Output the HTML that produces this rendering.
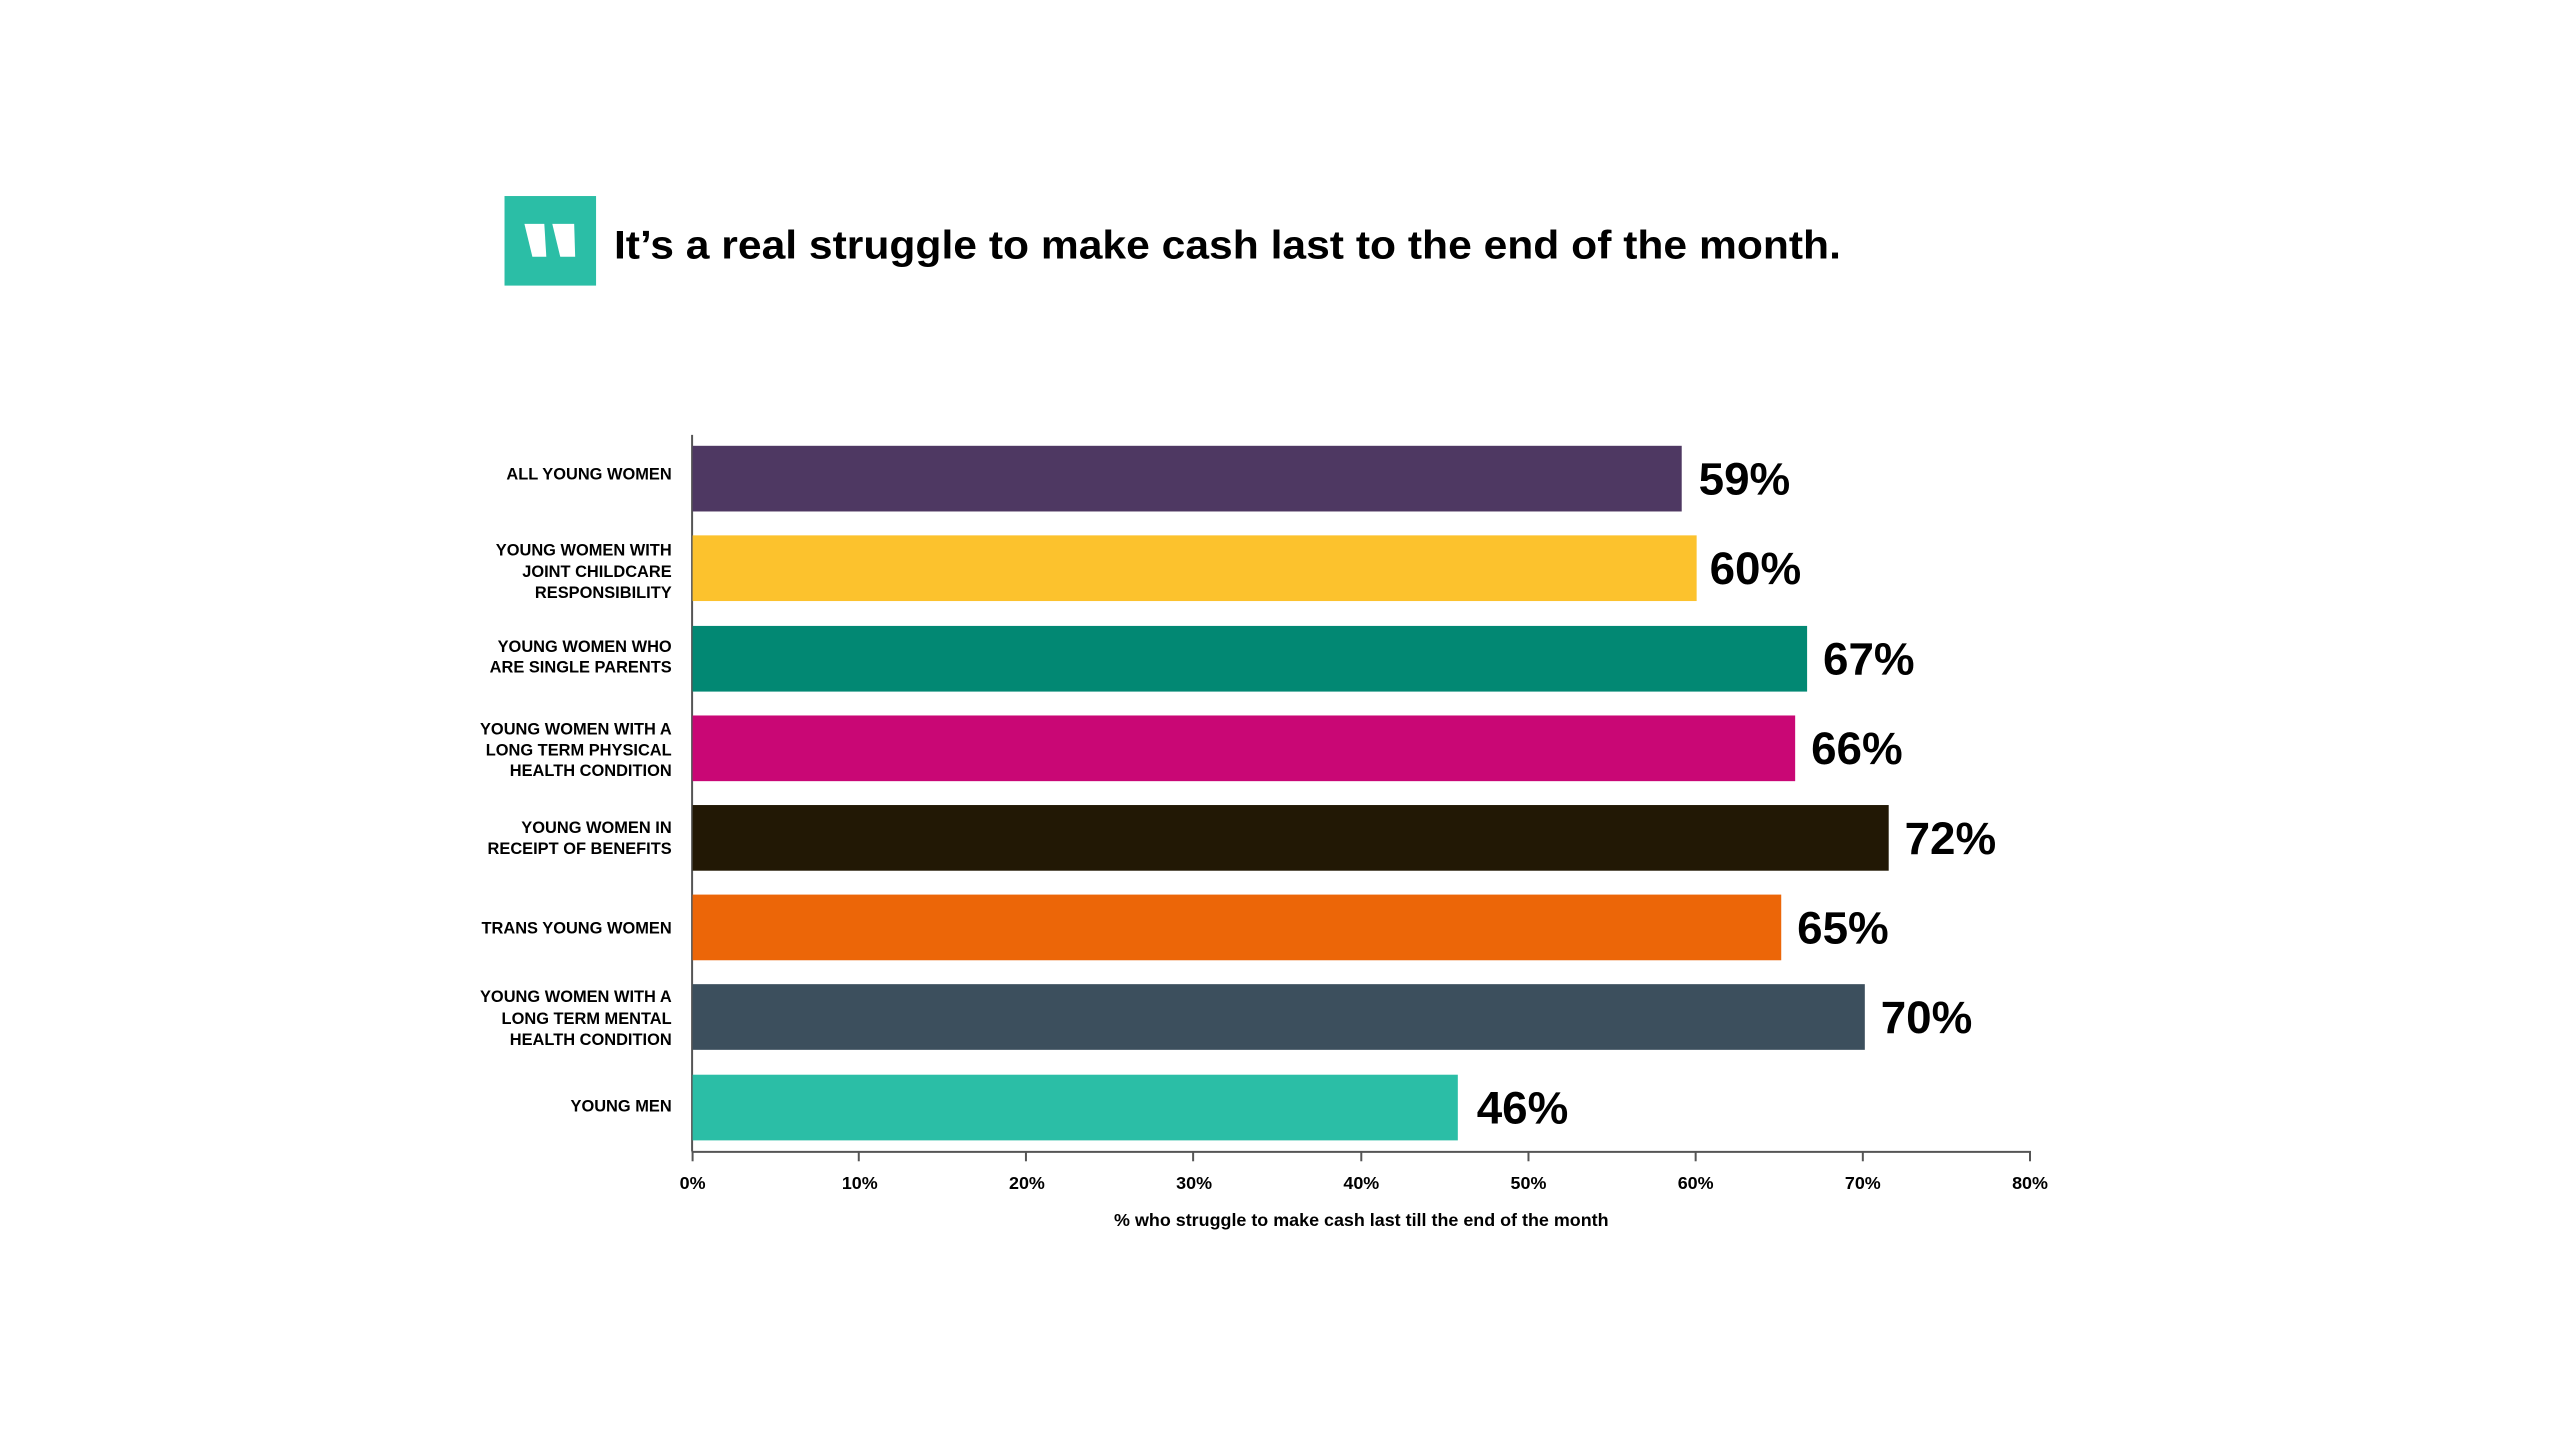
<!DOCTYPE html>
<html><head><meta charset="utf-8"><style>
body{margin:0;width:2560px;height:1440px;background:#fff;overflow:hidden;font-family:"Liberation Sans",sans-serif;}
</style></head><body>
<svg width="2560" height="1440" xmlns="http://www.w3.org/2000/svg" font-family="Liberation Sans, sans-serif">
<g transform="scale(0.9951)">
<rect x="507" y="197" width="92" height="90" fill="#2bbea6"/>
<polygon points="527,225 547,225 549,258 535,258" fill="#fff"/>
<polygon points="555,225 577,225 578,258 563,258" fill="#fff"/>
<text x="617" y="260" font-size="40" font-weight="bold" fill="#000" textLength="1233" lengthAdjust="spacingAndGlyphs">It’s a real struggle to make cash last to the end of the month.</text>
<line x1="695.5" y1="437" x2="695.5" y2="1157" stroke="#555" stroke-width="2"/>
<line x1="695" y1="1157.5" x2="2041" y2="1157.5" stroke="#555" stroke-width="2"/>
<g stroke="#555" stroke-width="2">
<line x1="863" y1="1157" x2="863" y2="1167"/><line x1="1031" y1="1157" x2="1031" y2="1167"/><line x1="1199" y1="1157" x2="1199" y2="1167"/><line x1="1368" y1="1157" x2="1368" y2="1167"/><line x1="1536" y1="1157" x2="1536" y2="1167"/><line x1="1704" y1="1157" x2="1704" y2="1167"/><line x1="1872" y1="1157" x2="1872" y2="1167"/><line x1="2040" y1="1157" x2="2040" y2="1167"/><line x1="696" y1="1157" x2="696" y2="1167"/>
</g>
<g font-size="18" font-weight="bold" text-anchor="middle" fill="#000">
<text x="696" y="1195">0%</text><text x="864" y="1195">10%</text><text x="1032" y="1195">20%</text><text x="1200" y="1195">30%</text><text x="1368" y="1195">40%</text><text x="1536" y="1195">50%</text><text x="1704" y="1195">60%</text><text x="1872" y="1195">70%</text><text x="2040" y="1195">80%</text>
<text x="1368" y="1232">% who struggle to make cash last till the end of the month</text>
</g>
<g>
<rect x="696" y="448" width="994" height="66" fill="#4e3862"/>
<rect x="696" y="538" width="1009" height="66" fill="#fcc22d"/>
<rect x="696" y="629" width="1120" height="66" fill="#028873"/>
<rect x="696" y="719" width="1108" height="66" fill="#c90775"/>
<rect x="696" y="809" width="1202" height="66" fill="#221805"/>
<rect x="696" y="899" width="1094" height="66" fill="#ec6608"/>
<rect x="696" y="989" width="1178" height="66" fill="#3c4f5d"/>
<rect x="696" y="1080" width="769" height="66" fill="#2bbea6"/>
</g>
<g font-size="46" font-weight="bold" fill="#000">
<text x="1707" y="497">59%</text>
<text x="1718" y="587">60%</text>
<text x="1832" y="678">67%</text>
<text x="1820" y="768">66%</text>
<text x="1914" y="858">72%</text>
<text x="1806" y="948">65%</text>
<text x="1890" y="1038">70%</text>
<text x="1484" y="1129">46%</text>
</g>
<g font-size="16.5" font-weight="bold" text-anchor="end" fill="#000">
<text x="675" y="482">ALL YOUNG WOMEN</text>
<text x="675" y="558">YOUNG WOMEN WITH</text><text x="675" y="580">JOINT CHILDCARE</text><text x="675" y="601">RESPONSIBILITY</text>
<text x="675" y="655">YOUNG WOMEN WHO</text><text x="675" y="676">ARE SINGLE PARENTS</text>
<text x="675" y="738">YOUNG WOMEN WITH A</text><text x="675" y="759">LONG TERM PHYSICAL</text><text x="675" y="780">HEALTH CONDITION</text>
<text x="675" y="837">YOUNG WOMEN IN</text><text x="675" y="858">RECEIPT OF BENEFITS</text>
<text x="675" y="938">TRANS YOUNG WOMEN</text>
<text x="675" y="1007">YOUNG WOMEN WITH A</text><text x="675" y="1029">LONG TERM MENTAL</text><text x="675" y="1050">HEALTH CONDITION</text>
<text x="675" y="1117">YOUNG MEN</text>
</g>
</g>
</svg>
</body></html>
